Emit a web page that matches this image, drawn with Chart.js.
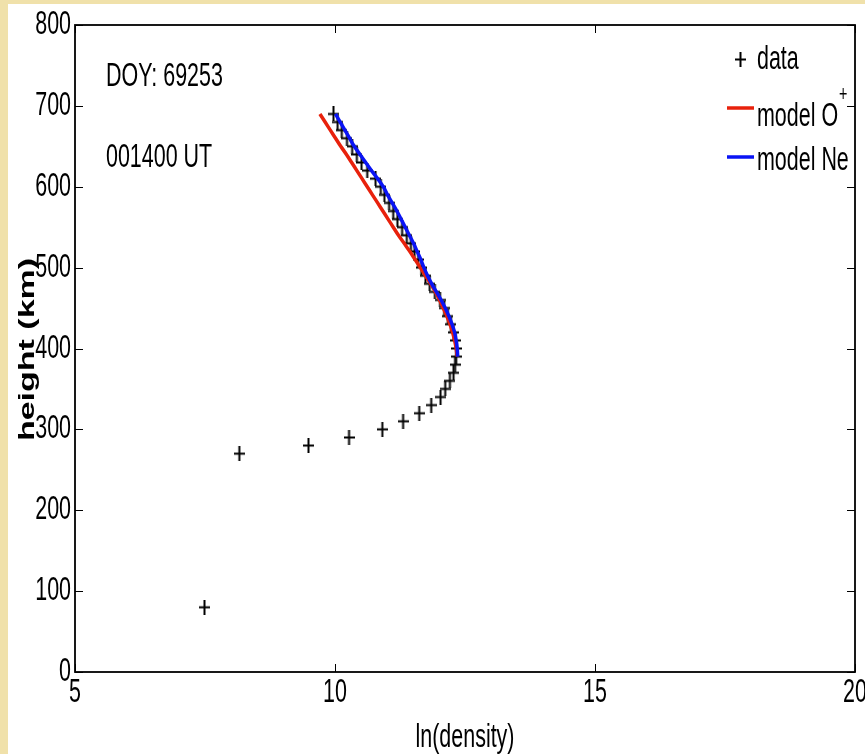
<!DOCTYPE html>
<html>
<head>
<meta charset="utf-8">
<script src="https://cdn.jsdelivr.net/npm/chart.js@4.4.1/dist/chart.umd.min.js"></script>
<style>
  html, body { margin: 0; padding: 0; background: #f0e1aa; overflow: hidden; }
  #wrap { position: absolute; left: 8px; top: 4px; width: 857px; height: 750px; background: #fff; }
</style>
</head>
<body>
<div id="wrap"><canvas id="myChart" width="857" height="750"></canvas></div>
<script>
// measured profile (ln density vs height)
const dataHeight = [80, 270, 280, 290, 300, 310, 320, 330, 340, 350, 360, 370, 380, 390,
  400, 410, 420, 430, 440, 450, 460, 470, 480, 490, 500, 510, 520, 530, 540, 550,
  560, 570, 580, 590, 600, 610, 620, 630, 640, 650, 660, 670, 680, 690];
const dataDensity = [7.49, 8.16, 9.49, 10.27, 10.91, 11.31, 11.62, 11.85, 12.03, 12.12, 12.21, 12.28, 12.31, 12.33,
  12.34, 12.32, 12.28, 12.23, 12.17, 12.10, 12.02, 11.92, 11.82, 11.74, 11.66, 11.60, 11.53, 11.46, 11.38, 11.29,
  11.20, 11.12, 11.04, 10.95, 10.88, 10.78, 10.62, 10.51, 10.42, 10.33, 10.23, 10.13, 10.05, 9.97];

// model fits
const modelHeight = [390, 400, 410, 420, 430, 440, 450, 460, 470, 480, 490, 500, 510, 520, 530, 540,
  550, 560, 570, 580, 590, 600, 610, 620, 630, 640, 650, 660, 670, 680, 690];
const modelO = [12.35, 12.33, 12.30, 12.26, 12.21, 12.15, 12.08, 12.01, 11.93, 11.84, 11.74, 11.64, 11.54, 11.44, 11.33, 11.22,
  11.12, 11.02, 10.92, 10.82, 10.72, 10.62, 10.52, 10.42, 10.32, 10.22, 10.11, 10.01, 9.91, 9.81, 9.71];
const modelNe = [12.36, 12.35, 12.33, 12.30, 12.25, 12.19, 12.12, 12.04, 11.95, 11.86, 11.78, 11.71, 11.65, 11.58, 11.51, 11.43,
  11.35, 11.27, 11.19, 11.10, 11.01, 10.93, 10.82, 10.70, 10.59, 10.48, 10.37, 10.28, 10.19, 10.10, 10.01];

const xTicks = [5, 10, 15, 20];
const yTicks = [0, 100, 200, 300, 400, 500, 600, 700, 800];

const pts = (xs, ys) => xs.map((x, i) => ({x: x, y: ys[i]}));

const FONT = "'Liberation Sans', Arial, Helvetica, sans-serif";
const SQ = 0.65; // the original figure is squeezed sideways
const RED = '#e8210c';
const BLUE = '#0a14f5';

// narrow "+" marker like the original
const cross = document.createElement('canvas');
cross.width = 11; cross.height = 15;
{
  const c = cross.getContext('2d');
  c.fillStyle = '#000';
  c.fillRect(4.5, 0, 2, 15);
  c.fillRect(0, 6.5, 11, 2);
}

// squeezed text helper
function txt(ctx, s, x, y, align, size, bold) {
  ctx.save();
  ctx.translate(x, y);
  ctx.scale(SQ, 1);
  ctx.font = (bold ? 'bold ' : '') + size + 'px ' + FONT;
  ctx.textAlign = align;
  ctx.textBaseline = 'middle';
  ctx.fillStyle = '#000';
  ctx.fillText(s, 0, 0);
  const w = ctx.measureText(s).width * SQ;
  ctx.restore();
  return w;
}

const decor = {
  id: 'decor',
  afterDraw(chart) {
    const {ctx, chartArea: a, scales} = chart;
    ctx.save();
    ctx.strokeStyle = '#000';
    ctx.lineWidth = 1.8;
    ctx.strokeRect(a.left, a.top, a.right - a.left, a.bottom - a.top);
    ctx.lineWidth = 1;
    ctx.beginPath();
    xTicks.forEach(v => {
      const x = Math.round(scales.x.getPixelForValue(v)) + 0.5;
      ctx.moveTo(x, a.bottom); ctx.lineTo(x, a.bottom - 8);
      ctx.moveTo(x, a.top); ctx.lineTo(x, a.top + 8);
    });
    yTicks.forEach(v => {
      const y = Math.round(scales.y.getPixelForValue(v)) + 0.5;
      ctx.moveTo(a.left, y); ctx.lineTo(a.left + 8, y);
      ctx.moveTo(a.right, y); ctx.lineTo(a.right - 8, y);
    });
    ctx.stroke();
    ctx.restore();

    // tick labels
    xTicks.forEach(v => txt(ctx, String(v), scales.x.getPixelForValue(v), a.bottom + 21, 'center', 33));
    yTicks.forEach(v => txt(ctx, String(v), a.left - 4, scales.y.getPixelForValue(v), 'right', 33));

    // axis titles
    txt(ctx, 'ln(density)', (a.left + a.right) / 2, a.bottom + 66, 'center', 33);
    ctx.save();
    ctx.translate(20, (a.top + a.bottom) / 2 + 1);
    ctx.rotate(-Math.PI / 2);
    ctx.scale(1, SQ);
    ctx.font = 'bold 34px ' + FONT;
    ctx.textAlign = 'center';
    ctx.textBaseline = 'middle';
    ctx.fillStyle = '#000';
    ctx.fillText('height (km)', 0, 0);
    ctx.restore();

    // annotations
    txt(ctx, 'DOY: 69253', a.left + 31, a.top + 52, 'left', 33);
    txt(ctx, '001400 UT', a.left + 31, a.top + 133, 'left', 33);

    // legend
    const lx = a.right - 128;
    ctx.drawImage(cross, lx + 8, a.top + 27);
    txt(ctx, 'data', lx + 30, a.top + 35, 'left', 33);
    ctx.save();
    ctx.lineWidth = 3.5;
    ctx.strokeStyle = RED;
    ctx.beginPath(); ctx.moveTo(lx, a.top + 83); ctx.lineTo(lx + 27, a.top + 83); ctx.stroke();
    ctx.strokeStyle = BLUE;
    ctx.beginPath(); ctx.moveTo(lx, a.top + 132); ctx.lineTo(lx + 27, a.top + 132); ctx.stroke();
    ctx.restore();
    const w = txt(ctx, 'model O', lx + 30, a.top + 92, 'left', 33);
    txt(ctx, '+', lx + 31 + w, a.top + 70, 'left', 22);
    txt(ctx, 'model Ne', lx + 30, a.top + 136, 'left', 33);
  }
};

new Chart(document.getElementById('myChart'), {
  type: 'scatter',
  data: {
    datasets: [
      {
        label: 'model Ne',
        data: pts(modelNe, modelHeight),
        showLine: true,
        borderColor: BLUE,
        borderWidth: 3.5,
        pointRadius: 0,
        tension: 0.3,
        order: 0
      },
      {
        label: 'model O+',
        data: pts(modelO, modelHeight),
        showLine: true,
        borderColor: RED,
        borderWidth: 3.5,
        pointRadius: 0,
        tension: 0.3,
        order: 1
      },
      {
        label: 'data',
        data: pts(dataDensity, dataHeight),
        pointStyle: cross,
        pointRadius: 7,
        order: 2
      }
    ]
  },
  options: {
    responsive: false,
    animation: false,
    layout: { padding: { left: 0, top: 21, right: 10, bottom: 0 } },
    plugins: { legend: { display: false }, tooltip: { enabled: false } },
    scales: {
      x: {
        type: 'linear',
        min: 5, max: 20,
        afterBuildTicks: s => { s.ticks = xTicks.map(v => ({value: v})); },
        afterFit: s => { s.height = 82; s.paddingLeft = 0; s.paddingRight = 0; },
        grid: { display: false, drawTicks: false },
        border: { display: false },
        ticks: { display: false },
        title: { display: false }
      },
      y: {
        type: 'linear',
        min: 0, max: 800,
        afterBuildTicks: s => { s.ticks = yTicks.map(v => ({value: v})); },
        afterFit: s => { s.width = 67; s.paddingTop = 0; s.paddingBottom = 0; },
        grid: { display: false, drawTicks: false },
        border: { display: false },
        ticks: { display: false },
        title: { display: false }
      }
    }
  },
  plugins: [decor]
});
</script>
</body>
</html>
